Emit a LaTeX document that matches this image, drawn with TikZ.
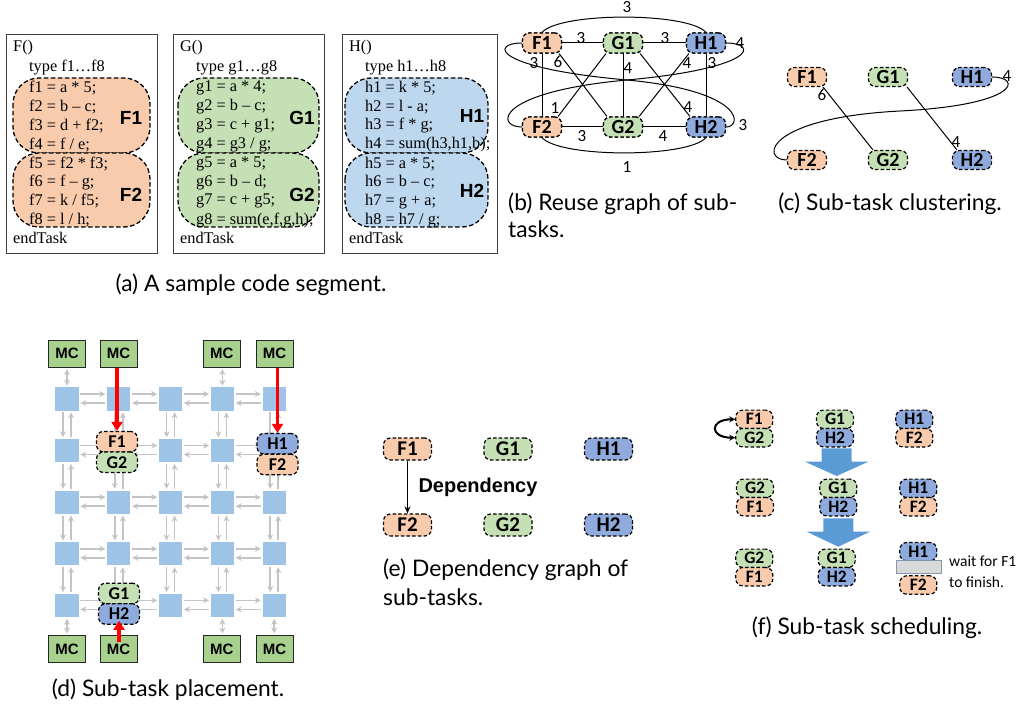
\documentclass[tikz,border=0pt]{standalone}
\usepackage{fontspec}
\setmainfont{Liberation Serif}
\newfontfamily\calfont{Carlito}
\newfontfamily\arialfont{Liberation Sans}
\newfontfamily\capfont{Lato}
\usetikzlibrary{arrows.meta,calc}
\definecolor{cF}{HTML}{F8CBAD}
\definecolor{cG}{HTML}{C5E0B4}
\definecolor{cH}{HTML}{8FAADC}
\definecolor{cHa}{HTML}{BDD7EE}
\definecolor{cSq}{HTML}{9DC3E6}
\definecolor{cMC}{HTML}{A9D18E}
\definecolor{cGr}{HTML}{C4C4C4}
\definecolor{cBig}{HTML}{5B9BD5}
\definecolor{cBox}{HTML}{D9D9D9}
\definecolor{cBoxB}{HTML}{8497B0}
\tikzset{
  task/.style={draw, dash pattern=on 3.5pt off 2.2pt, line width=1.2pt, rounded corners=7pt, inner sep=0pt,
    font=\calfont\bfseries\fontsize{20}{20}\selectfont, minimum width=39pt, minimum height=20pt},
  tF/.style={task, fill=cF}, tG/.style={task, fill=cG}, tH/.style={task, fill=cH},
  szd/.style={minimum width=41pt, minimum height=20.5pt, font=\calfont\bfseries\fontsize{18}{18}\selectfont},
  sze/.style={minimum width=48pt, minimum height=22pt, font=\calfont\bfseries\fontsize{21}{21}\selectfont},
  szf/.style={minimum width=37pt, minimum height=18.4pt, font=\calfont\bfseries\fontsize{17.5}{17.5}\selectfont},
  codebox/.style={draw=black!75, line width=0.9pt, inner sep=0pt},
  blob/.style={draw, dash pattern=on 4.5pt off 2.5pt, line width=1.3pt, rounded corners=26pt},
  code/.style={anchor=west, inner sep=0pt, font=\fontsize{16.3}{16.3}\selectfont},
  blabel/.style={inner sep=0pt, font=\arialfont\bfseries\fontsize{19}{19}\selectfont},
  ln/.style={draw, line width=1pt},
  num/.style={inner sep=0pt, font=\calfont\fontsize{17}{17}\selectfont},
  captxt/.style={inner sep=0pt, font=\capfont\fontsize{22.8}{22.8}\selectfont},
  sq/.style={fill=cSq, minimum size=23.3pt, inner sep=0pt},
  mc/.style={draw=black!85, line width=1pt, fill=cMC, minimum width=37pt, minimum height=27pt, inner sep=0pt,
    font=\arialfont\bfseries\fontsize{15}{15}\selectfont},
  garrow/.style={draw=cGr, line width=1.6pt, -{Stealth[length=6pt,width=6pt]}, shorten <=1.5pt, shorten >=1.5pt},
  gdarrow/.style={draw=cGr, line width=1.6pt, {Stealth[length=6pt,width=6pt]}-{Stealth[length=6pt,width=6pt]}, shorten <=1.5pt, shorten >=1.5pt},
  redarrow/.style={draw=red, line width=3.5pt, -{Triangle[length=9pt,width=11pt]}},
}
\begin{document}
\begin{tikzpicture}[x=1pt,y=-1pt]
\useasboundingbox (0,0) rectangle (1027,711);
% ---------------- (a) ----------------
\node[codebox, minimum width=151pt, minimum height=219pt] (boxF) at (81.5,143.5) {};
\node[codebox, minimum width=151pt, minimum height=219pt] (boxG) at (248.5,143.5) {};
\node[codebox, minimum width=155pt, minimum height=219pt] (boxH) at (419.5,143.5) {};
\draw[blob, fill=cF] (13,78) rectangle (150,153);
\draw[blob, fill=cF] (13,153) rectangle (150,227);
\draw[blob, fill=cG] (178,78) rectangle (319,153);
\draw[blob, fill=cG] (178,153) rectangle (319,227);
\draw[blob, fill=cHa] (345,78) rectangle (488,153);
\draw[blob, fill=cHa] (345,153) rectangle (488,227);
\node[code] (Fh) at (13,48) {F()};
\node[code] (Ft) at (29,68) {type f1…f8};
\node[code] (Fe) at (13,238) {endTask};
\node[code] (Gh) at (180,48) {G()};
\node[code] (Gt) at (196,68) {type g1…g8};
\node[code] (Ge) at (180,238) {endTask};
\node[code] (Hh) at (349,48) {H()};
\node[code] (Ht) at (365,68) {type h1…h8};
\node[code] (He) at (349,238) {endTask};
\foreach \t [count=\i] in {{f1 = a * 5;},{f2 = b – c;},{f3 = d + f2;},{f4 = f / e;},{f5 = f2 * f3;},{f6 = f – g;},{f7 = k / f5;},{f8 = l / h;}}
  \node[code] (cf\i) at (29,{88+(\i-1)*18.9}) {\t};
\foreach \t [count=\i] in {{g1 = a * 4;},{g2 = b – c;},{g3 = c + g1;},{g4 = g3 / g;},{g5 = a * 5;},{g6 = b – d;},{g7 = c + g5;},{g8 = sum(e,f,g,h);}}
  \node[code] (cg\i) at (196,{88+(\i-1)*18.9}) {\t};
\foreach \t [count=\i] in {{h1 = k * 5;},{h2 = l - a;},{h3 = f * g;},{h4 = sum(h3,h1,b);},{h5 = a * 5;},{h6 = b – c;},{h7 = g + a;},{h8 = h7 / g;}}
  \node[code] (ch\i) at (365,{88+(\i-1)*18.9}) {\t};
\node[blabel] (aF1) at (131,118) {F1};
\node[blabel] (aF2) at (131,195) {F2};
\node[blabel] (aG1) at (302,118) {G1};
\node[blabel] (aG2) at (302,195) {G2};
\node[blabel] (aH1) at (472,116) {H1};
\node[blabel] (aH2) at (472,191) {H2};
\node[captxt] (capa) at (251,285) {(a) A sample code segment.};
% ---------------- (b) ----------------
\node[tF] (bF1) at (542,43) {F1};
\node[tG] (bG1) at (623,43) {G1};
\node[tH] (bH1) at (706,43) {H1};
\node[tF] (bF2) at (542,127) {F2};
\node[tG] (bG2) at (623,127) {G2};
\node[tH] (bH2) at (706,127) {H2};
\draw[ln] (bF1) -- (bG1);
\draw[ln] (bG1) -- (bH1);
\draw[ln] (bF2) -- (bG2);
\draw[ln] (bG2) -- (bH2);
\draw[ln] (bF1) -- (bF2);
\draw[ln] (bG1) -- (bG2);
\draw[ln] (bH1) -- (bH2);
\draw[ln] ([xshift=-3pt]bF1.south east) -- ([xshift=4pt]bG2.north west);
\draw[ln] ([xshift=3pt]bG1.south west) -- ([xshift=-4pt]bF2.north east);
\draw[ln] ([xshift=-3pt]bG1.south east) -- ([xshift=4pt]bH2.north west);
\draw[ln] ([xshift=3pt]bH1.south west) -- ([xshift=-4pt]bG2.north east);
\draw[ln] (bF1.north) .. controls (560,12) and (688,12) .. (bH1.north);
\draw[ln] (bF2.south) .. controls (560,158) and (688,158) .. (bH2.south);
\draw[ln] (bH1.east) .. controls (758,43) and (758,68) .. (627,80) .. controls (495,92) and (495,127) .. (bF2.west);
\draw[ln] (bF1.west) .. controls (490,43) and (492,68) .. (627,80) .. controls (746,91) and (742,127) .. (bH2.east);
\node[tF] at (bF1) {F1};
\node[tG] at (bG1) {G1};
\node[tH] at (bH1) {H1};
\node[tF] at (bF2) {F2};
\node[tG] at (bG2) {G2};
\node[tH] at (bH2) {H2};
\node[num] (n1) at (581,38) {3};
\node[num] (n2) at (665,38) {3};
\node[num] (n3) at (627,7) {3};
\node[num] (n4) at (534,63) {3};
\node[num] (n5) at (712,63) {3};
\node[num] (n6) at (558,62) {6};
\node[num] (n7) at (555,108) {1};
\node[num] (n8) at (628,68) {4};
\node[num] (n9) at (687,63) {4};
\node[num] (n10) at (688,107) {4};
\node[num] (n11) at (582,136) {3};
\node[num] (n12) at (663,136) {4};
\node[num] (n13) at (627,167) {1};
\node[num] (n14) at (740,43) {4};
\node[num] (n15) at (743,125) {3};
\node[captxt, anchor=west] (capb1) at (508,204) {(b) Reuse graph of sub-};
\node[captxt, anchor=west] (capb2) at (508,229) {tasks.};
% ---------------- (c) ----------------
\node[tF, minimum height=19pt] (cF1) at (807,77) {F1};
\node[tG, minimum height=19pt] (cG1) at (888,77) {G1};
\node[tH, minimum height=19pt] (cH1) at (972,77) {H1};
\node[tF, minimum height=19pt] (cF2) at (807,160) {F2};
\node[tG, minimum height=19pt] (cG2) at (888,160) {G2};
\node[tH, minimum height=19pt] (cH2) at (972,160) {H2};
\draw[ln] ([xshift=-4pt]cF1.south east) -- ([xshift=5pt]cG2.north west);
\draw[ln] ([xshift=-1pt]cG1.south east) -- ([xshift=5pt]cH2.north west);
\draw[ln] (cH1.east) .. controls (1022,77) and (1020,105) .. (900,111) .. controls (765,118) and (760,160) .. (cF2.west);
\node[num] (m1) at (822,95) {6};
\node[num] (m2) at (956,142) {4};
\node[num] (m3) at (1007,76) {4};
\node[captxt] (capc) at (890,204) {(c) Sub-task clustering.};
% ---------------- (d) ----------------
\foreach \i in {0,...,4} \foreach \j in {0,...,4}
  \node[sq] (s\i\j) at ({67+51.8*\i},{399+51.6*\j}) {};
\foreach \i [evaluate=\i as \k using int(\i+1)] in {0,...,3} \foreach \j in {0,...,4} {
  \draw[garrow] ([yshift=5pt]s\i\j.east) -- ([yshift=5pt]s\k\j.west);
  \draw[garrow] ([yshift=-4pt]s\k\j.west) -- ([yshift=-4pt]s\i\j.east);
}
\foreach \j [evaluate=\j as \k using int(\j+1)] in {0,...,3} \foreach \i in {0,...,4} {
  \draw[garrow] ([xshift=-4pt]s\i\j.south) -- ([xshift=-4pt]s\i\k.north);
  \draw[garrow] ([xshift=4pt]s\i\k.north) -- ([xshift=4pt]s\i\j.south);
}
\node[mc] (mt1) at (67,353.7) {MC};
\node[mc] (mt2) at (118.5,353.7) {MC};
\node[mc] (mt3) at (221.7,353.7) {MC};
\node[mc] (mt4) at (274.5,353.7) {MC};
\node[mc] (mb1) at (67,649) {MC};
\node[mc] (mb2) at (118.5,649) {MC};
\node[mc] (mb3) at (221.7,649) {MC};
\node[mc] (mb4) at (274.5,649) {MC};
\draw[gdarrow] (mt1.south) -- (s00.north);
\draw[gdarrow] (mt3.south -| s30.north) -- (s30.north);
\draw[gdarrow] (s04.south) -- (mb1.north);
\draw[gdarrow] (s34.south) -- (mb3.north -| s34.south);
\draw[gdarrow] (s44.south) -- (mb4.north -| s44.south);
\node[tF, szd] (dF1) at (117,441.7) {F1};
\node[tG, szd] (dG2) at (117,462.2) {G2};
\node[tH, szd] (dH1) at (277.5,443.7) {H1};
\node[tF, szd] (dF2) at (277.5,464.5) {F2};
\node[tG, szd] (dG1) at (119,593.5) {G1};
\node[tH, szd] (dH2) at (119,614) {H2};
\draw[redarrow] (mt2.south -| dF1.north) -- (dF1.north);
\draw[redarrow] (mt4.south -| dH1.north) -- (dH1.north);
\draw[redarrow] ([yshift=-7pt]mb2.north -| dH2.south) -- ([yshift=4pt]dH2.south);
\node[captxt] (capd) at (168,690) {(d) Sub-task placement.};
% ---------------- (e) ----------------
\node[tF, sze] (eF1) at (407.5,449) {F1};
\node[tG, sze] (eG1) at (508,449) {G1};
\node[tH, sze] (eH1) at (608.5,449) {H1};
\node[tF, sze] (eF2) at (407.5,525) {F2};
\node[tG, sze] (eG2) at (508,525) {G2};
\node[tH, sze] (eH2) at (608.5,525) {H2};
\draw[line width=1.3pt, -{Stealth[length=7pt,width=6pt]}] (eF1.south) -- (eF2.north);
\node[inner sep=0pt, font=\arialfont\bfseries\fontsize{20}{20}\selectfont] (dep) at (478,487) {Dependency};
\node[captxt, anchor=west] (cape1) at (383,570) {(e) Dependency graph of};
\node[captxt, anchor=west] (cape2) at (383,597) {sub-tasks.};
% ---------------- (f) ----------------
\node[tF, szf] (fF1a) at (754.3,419.3) {F1};
\node[tG, szf] (fG2a) at (754.3,437.7) {G2};
\node[tG, szf] (fG1a) at (835,419.3) {G1};
\node[tH, szf] (fH2a) at (835,437.7) {H2};
\node[tH, szf] (fH1a) at (914.3,419.3) {H1};
\node[tF, szf] (fF2a) at (914.3,437.7) {F2};
\draw[line width=2pt, {Stealth[length=6pt,width=6pt]}-{Stealth[length=6pt,width=6pt]}] (fF1a.west) .. controls +(-26,0) and +(-26,0) .. (fG2a.west);
\fill[cBig] (821.7,448.3) -- (851.7,448.3) -- (851.7,461.7) -- (868.3,461.7) -- (836.7,476) -- (805,461.7) -- (821.7,461.7) -- cycle;
\node[tG, szf] (fG2b) at (755,488.3) {G2};
\node[tF, szf] (fF1b) at (755,506.7) {F1};
\node[tG, szf] (fG1b) at (838.3,488.3) {G1};
\node[tH, szf] (fH2b) at (838.3,506.7) {H2};
\node[tH, szf] (fH1b) at (918.3,488.3) {H1};
\node[tF, szf] (fF2b) at (918.3,506.7) {F2};
\fill[cBig] (823.3,518.3) -- (853.3,518.3) -- (853.3,531.7) -- (870,531.7) -- (838.3,546.7) -- (806.7,531.7) -- (823.3,531.7) -- cycle;
\node[tG, szf] (fG2c) at (754.3,558.3) {G2};
\node[tF, szf] (fF1c) at (754.3,576.7) {F1};
\node[tG, szf] (fG1c) at (836.7,558.3) {G1};
\node[tH, szf] (fH2c) at (836.7,576.7) {H2};
\node[tH, szf] (fH1c) at (918.3,551.7) {H1};
\node[draw=cBoxB, fill=cBox, line width=1pt, minimum width=45pt, minimum height=13.3pt, inner sep=0pt] (wait) at (919,567.3) {};
\node[tF, szf] (fF2c) at (918.3,585) {F2};
\node[anchor=west, inner sep=0pt, font=\calfont\fontsize{15.5}{15.5}\selectfont] (w1) at (949,561.7) {wait for F1};
\node[anchor=west, inner sep=0pt, font=\calfont\fontsize{15.5}{15.5}\selectfont] (w2) at (949,581.7) {to finish.};
\node[captxt] (capf) at (867,628) {(f) Sub-task scheduling.};
\end{tikzpicture}
\end{document}
